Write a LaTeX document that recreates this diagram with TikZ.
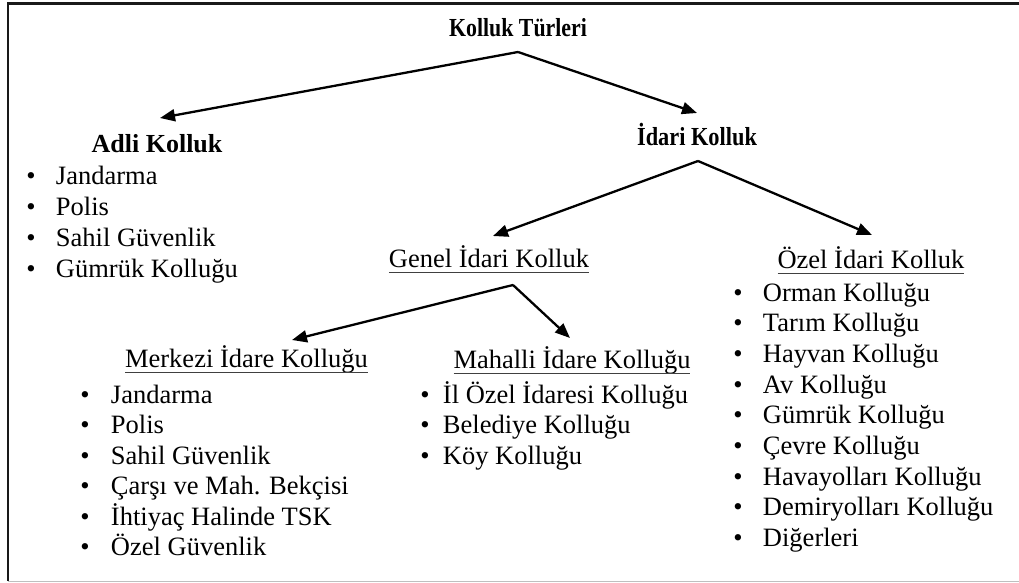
\documentclass[tikz,border=0pt]{standalone}
\usepackage{fontspec}
\usepackage{graphicx}
\setmainfont{Liberation Serif}
\usetikzlibrary{arrows.meta}
\newcommand\bulitem[2]{\llap{\textbullet\hspace{#1pt}}#2}
\begin{document}
\begin{tikzpicture}[x=1pt,y=-1pt,
  txt/.style={inner sep=0pt, outer sep=0pt, font=\fontsize{26.5}{30}\selectfont},
  ttl/.style={inner sep=0pt, outer sep=0pt, font=\fontsize{26}{30}\selectfont\bfseries},
  arr/.style={line width=2.3pt, line join=miter, -{Triangle[length=15pt,width=12pt]}},
  uline/.style={line width=1.3pt, draw=black!75},
]
\useasboundingbox (0,0) rectangle (1019,583);
% frame
\draw[line width=2.2pt, black!90] (1019,3.5) -- (8,3.5) -- (8,581);
\draw[line width=1.5pt, black!25] (8,581.5) -- (1019,581.5);

% titles
\node[ttl, anchor=base] (kt) at (518,37) {\scalebox{0.84}[1]{Kolluk Türleri}};
\node[ttl, anchor=base] (adli) at (157,152) {Adli Kolluk};
\node[ttl, anchor=base] (idari) at (697,146) {\scalebox{0.86}[1]{İdari Kolluk}};
\node[txt, anchor=base] (genel) at (489,267) {Genel İdari Kolluk};
\node[txt, anchor=base] (ozel) at (871,268) {Özel İdari Kolluk};
\node[txt, anchor=base] (merkezi) at (246.5,367) {Merkezi İdare Kolluğu};
\node[txt, anchor=base] (mahalli) at (572,368) {Mahalli İdare Kolluğu};

\foreach \n in {genel,ozel,merkezi,mahalli}
  \draw[uline] ([yshift=-5.5pt]\n.base west) -- ([yshift=-5.5pt]\n.base east);

% lists
\foreach \t [count=\i] in {Jandarma,Polis,Sahil Güvenlik,Gümrük Kolluğu}
  \node[txt, anchor=base west] (adli-\i) at (56,{184+31*(\i-1)}) {\bulitem{20.4}{\t}};
\foreach \t [count=\i] in {Jandarma,Polis,Sahil Güvenlik,Çarşı ve Mah. Bekçisi,İhtiyaç Halinde TSK,Özel Güvenlik}
  \node[txt, anchor=base west] (merk-\i) at (111,{403+30.5*(\i-1)}) {\bulitem{21.4}{\t}};
\foreach \t [count=\i] in {İl Özel İdaresi Kolluğu,Belediye Kolluğu,Köy Kolluğu}
  \node[txt, anchor=base west] (mah-\i) at (443,{403+30.5*(\i-1)}) {\bulitem{13.4}{\t}};
\foreach \t [count=\i] in {Orman Kolluğu,Tarım Kolluğu,Hayvan Kolluğu,Av Kolluğu,Gümrük Kolluğu,Çevre Kolluğu,Havayolları Kolluğu,Demiryolları Kolluğu,Diğerleri}
  \node[txt, anchor=base west] (ozl-\i) at (763,{301+30.7*(\i-1)}) {\bulitem{20.4}{\t}};

% connector points
\coordinate (kt-s) at (518,52);
\coordinate (adli-t) at (160,118);
\coordinate (idari-t) at (697,113);
\coordinate (idari-s) at (698,161);
\coordinate (genel-t) at (493,236);
\coordinate (ozel-t) at (872,235);
\coordinate (genel-s) at (513,285);
\coordinate (merkezi-t) at (292,340);
\coordinate (mahalli-t) at (570,338);

\draw[arr] (kt-s) -- (adli-t);
\draw[arr] (kt-s) -- (idari-t);
\draw[arr] (idari-s) -- (genel-t);
\draw[arr] (idari-s) -- (ozel-t);
\draw[arr] (genel-s) -- (merkezi-t);
\draw[arr] (genel-s) -- (mahalli-t);
\end{tikzpicture}
\end{document}
